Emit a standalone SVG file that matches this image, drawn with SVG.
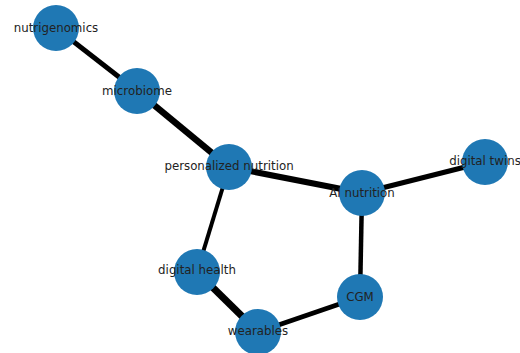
<svg xmlns="http://www.w3.org/2000/svg" width="520" height="353" viewBox="0 0 520 353">
<style>
.e{stroke:#000;stroke-linecap:butt;fill:none}
.n circle{fill:#1f78b4}
.n text{font-family:"DejaVu Sans",sans-serif;font-size:11.8px;fill:#222;text-anchor:middle;dominant-baseline:central}
</style>
<rect width="520" height="353" fill="#fff"/>
<g id="edges">
<line class="e" x1="56" y1="28" x2="137" y2="91" stroke-width="5"/>
<line class="e" x1="137" y1="91" x2="229" y2="167" stroke-width="6.5"/>
<line class="e" x1="229" y1="167" x2="362" y2="193" stroke-width="6"/>
<line class="e" x1="362" y1="193" x2="485" y2="162" stroke-width="5"/>
<line class="e" x1="362" y1="193" x2="360" y2="297" stroke-width="4.5"/>
<line class="e" x1="229" y1="167" x2="197" y2="272" stroke-width="4"/>
<line class="e" x1="197" y1="272" x2="258" y2="332" stroke-width="7"/>
<line class="e" x1="258" y1="332" x2="360" y2="297" stroke-width="5"/>
</g>
<g id="nutrigenomics" class="n"><circle cx="56" cy="28" r="23"/><text x="56" y="28">nutrigenomics</text></g>
<g id="microbiome" class="n"><circle cx="137" cy="91" r="23"/><text x="137" y="91">microbiome</text></g>
<g id="personalized_nutrition" class="n"><circle cx="229" cy="167" r="23"/><text x="229" y="166">personalized nutrition</text></g>
<g id="ai_nutrition" class="n"><circle cx="362" cy="193" r="23"/><text x="362" y="193">AI nutrition</text></g>
<g id="digital_twins" class="n"><circle cx="485" cy="162" r="23"/><text x="485" y="161">digital twins</text></g>
<g id="digital_health" class="n"><circle cx="197" cy="272" r="23"/><text x="197" y="270">digital health</text></g>
<g id="cgm" class="n"><circle cx="360" cy="297" r="23"/><text x="360" y="297">CGM</text></g>
<g id="wearables" class="n"><circle cx="258" cy="332" r="23"/><text x="258" y="331">wearables</text></g>
</svg>
